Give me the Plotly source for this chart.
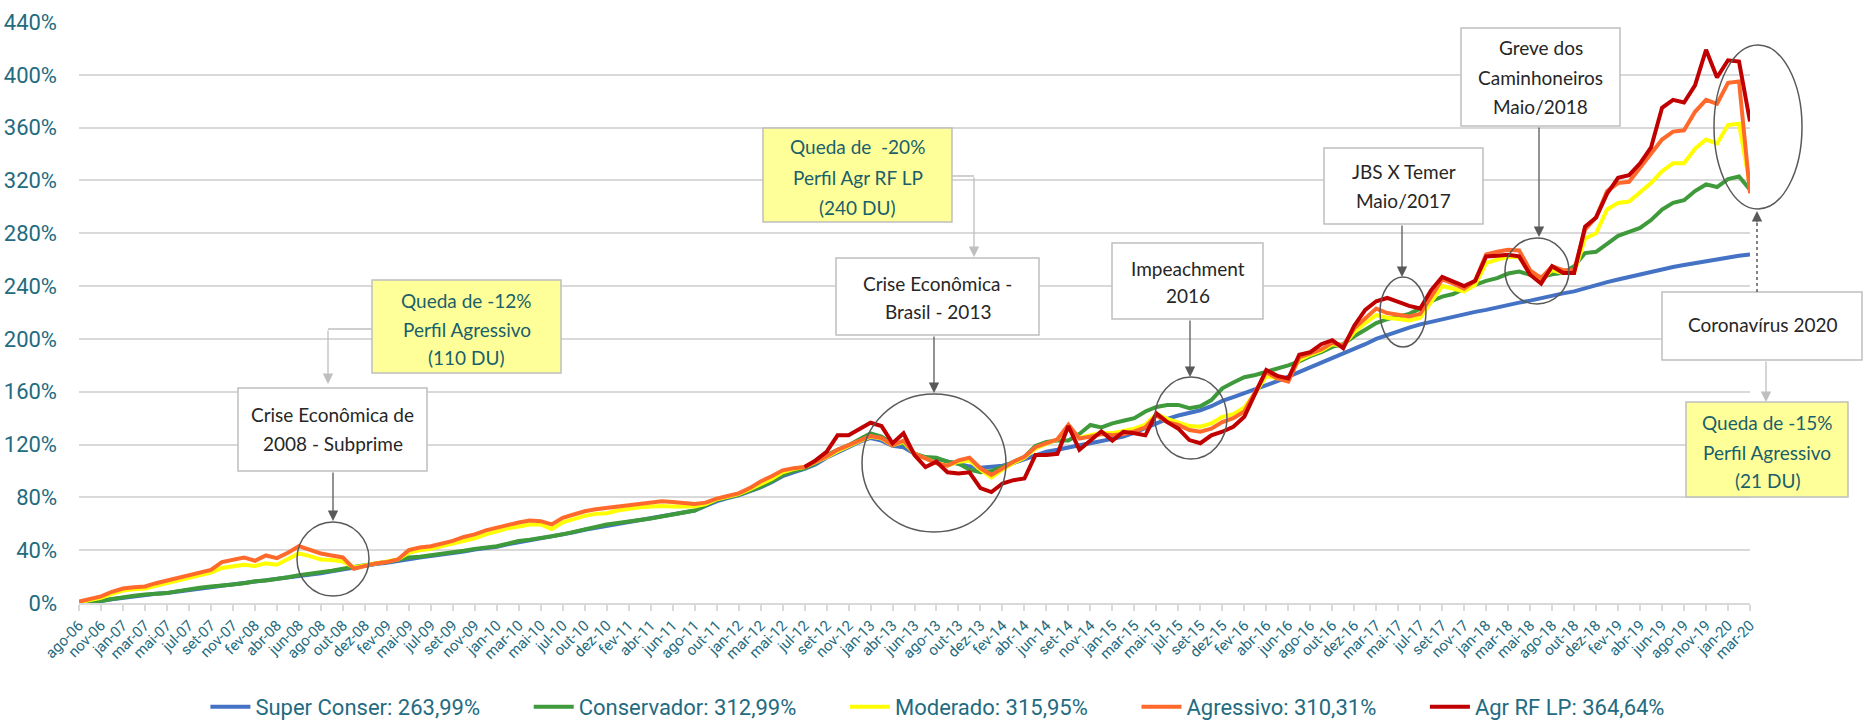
import plotly.graph_objects as go

# ---------------- data ----------------
tick_labels = ["ago-06","nov-06","jan-07","mar-07","mai-07","jul-07","set-07","nov-07","fev-08","abr-08",
               "jun-08","ago-08","out-08","dez-08","fev-09","mai-09","jul-09","set-09","nov-09","jan-10",
               "mar-10","mai-10","jul-10","out-10","dez-10","fev-11","abr-11","jun-11","ago-11","out-11",
               "jan-12","mar-12","mai-12","jul-12","set-12","nov-12","jan-13","abr-13","jun-13","ago-13",
               "out-13","dez-13","fev-14","abr-14","jun-14","set-14","nov-14","jan-15","mar-15","mai-15",
               "jul-15","set-15","dez-15","fev-16","abr-16","jun-16","ago-16","out-16","dez-16","mar-17",
               "mai-17","jul-17","set-17","nov-17","jan-18","mar-18","mai-18","ago-18","out-18","dez-18",
               "fev-19","abr-19","jun-19","ago-19","nov-19","jan-20","mar-20"]

# two observations per tick-label interval (values in %)
super_conser = [0, 0.5, 1.5, 2.8, 4, 5, 6, 7, 7.5, 8.8,
                10, 11, 12, 13, 14, 15, 16, 17, 18, 19,
                20.5, 21.5, 22.5, 24, 25.5, 27, 28.5, 29.5, 30.5, 32,
                33.5, 34.5, 35.5, 36.5, 37.5, 39, 40.5, 41.5, 42.5, 44.5,
                46, 47.5, 48.5, 50, 51.5, 53.5, 55.5, 57, 58.5, 60,
                61, 62.5, 64, 65.5, 67, 68.5, 70, 73.5, 77, 79.5,
                81.5, 84.5, 87.5, 91.5, 96, 99, 101.5, 105, 110, 114,
                118, 122, 125, 123, 119, 118, 113, 110, 109, 107,
                105.5, 103.5, 102.5, 103, 104, 106, 109, 112, 114.5, 116,
                118, 119.5, 121, 122.5, 124, 126, 129, 132.5, 136.5, 139.5,
                142, 144, 146, 149, 153, 156, 159, 161.5, 165, 168,
                171.5, 175, 178, 181.5, 185, 188.5, 192, 196, 200, 203,
                206, 208.5, 211, 213, 215, 217, 219, 220.5, 222, 224,
                226, 227.5, 229, 231, 233, 234.5, 236, 238.5, 241, 243,
                245, 247, 249, 251, 253, 254.5, 256, 257.5, 259, 260.5,
                262, 263, 263.99]

conservador = [0, 0.5, 1.5, 3, 4.5, 5.5, 6.5, 7, 7.5, 9,
               10.5, 11.5, 12.5, 13, 14, 15, 16.5, 17, 18, 19.5,
               21, 22, 23, 24.5, 26, 27.5, 29, 30, 31, 32.5,
               34.5, 35, 36, 37, 38, 39.5, 41, 42, 43, 45,
               47, 48, 49, 50.5, 52, 54, 56, 58, 59.5, 60.5,
               61.5, 63, 64, 65.5, 67, 68.5, 70, 74, 78, 80,
               82, 85, 88, 92, 97, 100, 102, 106, 112, 116,
               119.5, 124, 128.5, 126, 120.5, 121, 113, 110.5, 110, 107,
               105.7, 101, 99, 100, 103, 107, 110.7, 119, 122, 123,
               123, 128, 134.8, 133, 136, 138, 140, 145, 148.5, 150,
               150, 147.5, 149, 153.7, 162.6, 167, 171, 172.7, 175, 177,
               180, 183, 187, 190, 194, 196, 202, 207, 212, 215,
               217, 219, 223, 228.5, 232, 234, 238, 241, 244, 246,
               249.5, 251, 248.5, 247, 249, 250, 255, 265, 266, 272,
               278, 281, 284, 290, 298, 303, 305, 312, 317, 315,
               321, 323, 312.99]

moderado = [0.5, 2.5, 4, 7, 9.5, 10.5, 11, 13, 15, 17.5,
            19.5, 21, 23, 26.5, 28, 29, 28, 30, 29, 33,
            37.5, 35.5, 33, 32.5, 31.5, 27, 28.5, 30, 31, 33,
            38, 40, 41, 43, 44.5, 47, 49, 52, 54.5, 56.5,
            58, 59.5, 59.5, 56, 61, 63.5, 66, 67.5, 68, 70,
            71.5, 72.5, 73, 73.5, 73, 73, 73, 75, 78.5, 80.5,
            82.5, 86, 90, 94, 99, 101.5, 103, 106.5, 110.5, 115,
            119, 122.5, 126, 124.5, 119.5, 122, 113, 109.5, 106, 104,
            107, 108, 101, 95, 101, 106, 110, 117, 120.5, 124,
            132, 125, 127, 129, 128.5, 130, 132, 135, 143, 139.5,
            137, 134, 133.5, 136, 141, 143, 148, 159, 172, 170,
            170, 184, 188, 191, 196, 195, 205, 212, 218, 216,
            215, 214, 216, 228, 240, 238, 236, 241, 257.4, 260,
            262, 262, 250, 245, 252, 250, 250, 276, 280, 298,
            303, 304, 311, 318, 327, 333, 333, 344, 351, 348,
            362, 363, 315.95]

agressivo = [1, 3, 5, 8.5, 11, 12, 12.5, 15, 17, 19.5,
             21.5, 23.5, 25, 31, 33, 34.5, 32, 36, 34, 38,
             43, 40, 37.5, 36, 34.5, 26, 28, 30, 31, 33,
             40, 42, 43, 45, 47, 50, 52, 55, 57, 59.5,
             61, 62.5, 62, 59.5, 64.5, 67, 69.5, 71, 72, 73,
             74, 75.5, 76.5, 77, 76.5, 75.5, 75, 76, 79, 81,
             83, 87, 92, 96, 100.5, 102, 103, 107, 111, 116,
             119.5, 123, 126.5, 125, 119.5, 123, 113, 109.5, 105.7, 104,
             108, 110, 102, 97, 102, 107, 110.7, 118, 121, 124,
             135, 124.6, 126, 128, 127, 128, 130, 133, 142, 137,
             134.8, 131, 129.7, 132, 137, 140, 145, 160, 175, 170,
             167.6, 186, 189, 192, 197, 195, 208, 216, 223, 219.6,
             218, 217, 219, 232, 245, 242, 238, 244, 264, 266,
             267.5, 267, 252, 246, 255, 252, 252, 283, 292, 312,
             318, 319, 330, 340, 351, 357, 358, 372, 381, 378,
             394, 395, 310.31]

agr_rf_lp = [None] * 66 + [
             103, 108, 114.5, 127, 127, 132, 136.5, 134, 121, 128.5,
             112, 103, 107, 99, 98, 99, 87, 84, 90.5, 93,
             94.3, 112, 112, 113, 134, 116, 123, 130, 123, 129.7,
             128.5, 127, 143.6, 137, 132, 123.4, 121, 127, 129.7, 133.5,
             141, 158, 176.5, 172, 170, 188, 190, 196, 199, 193,
             210, 222, 228.5, 231, 228, 225, 223, 237, 247, 243.5,
             240, 244, 262.5, 263, 263.7, 262.5, 248.6, 242, 255, 250,
             250, 285, 292, 310, 322, 324, 333, 345, 375, 381,
             379, 392, 419, 398, 411, 410, 364.64]

series_names = ["Super Conser: 263,99%", "Conservador: 312,99%", "Moderado: 315,95%",
                "Agressivo: 310,31%", "Agr RF LP: 364,64%"]
series_values = [super_conser, conservador, moderado, agressivo, agr_rf_lp]
series_colors = ["#4472C4", "#3E9A3A", "#FFFF00", "#FF6A2C", "#C00000"]

# ---------------- figure ----------------
W, H = 1864, 720
PL, PR, PT, PB = 79, 1750, 22, 603  # plot area in pixels

TEAL = "#236B80"
NOTE_TEAL = "#1A5F6A"
NARROW = "Roboto, Liberation Sans, sans-serif"
BOXFONT = "Lato, Open Sans, sans-serif"
PAD = "\u00a0" * 8

fig = go.Figure()
for k, (name, vals, col) in enumerate(zip(series_names, series_values, series_colors)):
    label = name + (PAD if k < len(series_names) - 1 else "")
    fig.add_trace(go.Scatter(
        x=[i / 2 for i in range(len(vals))], y=vals, name=label, mode="lines",
        line=dict(color=col, width=4), connectgaps=False))


def px(xp):
    return (xp - PL) / (PR - PL)


def py(yp):
    return (PB - yp) / (PB - PT)


shapes = []
annotations = []


def box(x0, y0, x1, y1, lines, line_ys, yellow=False):
    shapes.append(dict(type="rect", xref="paper", yref="paper",
                       x0=px(x0), x1=px(x1), y0=py(y1), y1=py(y0),
                       fillcolor="#FFFF99" if yellow else "white",
                       line=dict(color="#BFBFBF", width=1.5), layer="above"))
    for t, yy in zip(lines, line_ys):
        annotations.append(dict(xref="paper", yref="paper", x=px((x0 + x1) / 2), y=py(yy),
                                text=t, showarrow=False, xanchor="center", yanchor="middle",
                                font=dict(family=BOXFONT, size=19,
                                          color=NOTE_TEAL if yellow else "#262626")))


def seg(x0, y0, x1, y1, color, dash="solid"):
    shapes.append(dict(type="line", xref="paper", yref="paper",
                       x0=px(x0), x1=px(x1), y0=py(y0), y1=py(y1),
                       line=dict(color=color, width=1.5, dash=dash), layer="above"))


def arrow(xt, yt, xtip, ytip, color):
    annotations.append(dict(xref="paper", yref="paper", x=px(xtip), y=py(ytip),
                            ax=xt - xtip, ay=yt - ytip, axref="pixel", ayref="pixel",
                            text="", showarrow=True, arrowhead=2, arrowsize=1.6,
                            arrowwidth=1.3, arrowcolor=color, standoff=0))


def ellipse(cx, cy, rx, ry):
    shapes.append(dict(type="circle", xref="paper", yref="paper",
                       x0=px(cx - rx), x1=px(cx + rx), y0=py(cy + ry), y1=py(cy - ry),
                       line=dict(color="#595959", width=1.5), layer="above"))


DARK = "#595959"
LIGHT = "#BFBFBF"

# 2008
box(372, 280, 561, 373, ["Queda de -12%", "Perfil Agressivo", "(110 DU)"], [300, 329, 357], yellow=True)
seg(372, 329, 328, 329, LIGHT)
arrow(328, 329, 328, 384, LIGHT)
box(238, 388, 427, 471, ["Crise Econômica de", "2008 - Subprime"], [414, 443])
arrow(333, 471, 333, 521, DARK)
ellipse(333, 559, 36, 37)

# 2013
box(763, 128, 952, 222, ["Queda de  -20%", "Perfil Agr RF LP", "(240 DU)"], [147, 177, 207], yellow=True)
seg(952, 176, 974, 176, LIGHT)
arrow(974, 176, 974, 257, LIGHT)
box(836, 258, 1039, 335, ["Crise Econômica -", "Brasil - 2013"], [283, 311])
arrow(934, 335, 934, 393, DARK)
ellipse(934, 463, 72, 69)

# 2016
box(1112, 243, 1263, 319, ["Impeachment", "2016"], [268, 295])
arrow(1190, 319, 1190, 377, DARK)
ellipse(1191, 418, 36, 41)

# 2017
box(1324, 148, 1483, 224, ["JBS X Temer", "Maio/2017"], [172, 200])
arrow(1402, 224, 1402, 277, DARK)
ellipse(1403, 312, 23, 35)

# 2018
box(1461, 28, 1620, 126, ["Greve dos", "Caminhoneiros", "Maio/2018"], [48, 77, 106])
arrow(1539, 126, 1539, 237, DARK)
ellipse(1537, 271, 32, 33)

# 2020
ellipse(1758, 127, 44, 82)
box(1662, 292, 1862, 360, ["Coronavírus 2020"], [325])
seg(1757, 292, 1757, 222, DARK, dash="dot")
arrow(1757, 224, 1757, 211, DARK)
arrow(1766, 360, 1766, 402, LIGHT)
box(1686, 402, 1848, 497, ["Queda de -15%", "Perfil Agressivo", "(21 DU)"], [422, 452, 480], yellow=True)

fig.update_layout(
    width=W, height=H, autosize=False,
    margin=dict(l=PL, r=W - PR, t=PT, b=H - PB, pad=0, autoexpand=False),
    paper_bgcolor="white", plot_bgcolor="white",
    showlegend=True,
    legend=dict(orientation="h", x=0.514, xanchor="center",
                yref="container", y=0.018, yanchor="middle",
                font=dict(family=NARROW, size=22, color=TEAL), itemwidth=40,
                tracegroupgap=0, bgcolor="rgba(0,0,0,0)"),
    xaxis=dict(range=[0, 76], tickmode="array", tickvals=list(range(len(tick_labels))),
               ticktext=tick_labels, tickangle=-45, showgrid=False, zeroline=False,
               showline=True, linecolor="#D9D9D9", linewidth=1.5, automargin=False,
               ticks="outside", ticklen=6, tickcolor="#D9D9D9", tickwidth=1.5,
               tickfont=dict(family=NARROW, size=15, color=TEAL)),
    yaxis=dict(range=[0, 440], dtick=40, tick0=0, ticksuffix="%", showgrid=True,
               gridcolor="#D9D9D9", gridwidth=1.5, zeroline=False, showline=False,
               ticklabelstandoff=21, automargin=False,
               tickfont=dict(family=NARROW, size=22, color=TEAL)),
    shapes=shapes, annotations=annotations,
)

fig.write_html("out.html", config={"displayModeBar": False},
               post_script="document.body.style.margin='0px';document.body.style.overflow='hidden';")
